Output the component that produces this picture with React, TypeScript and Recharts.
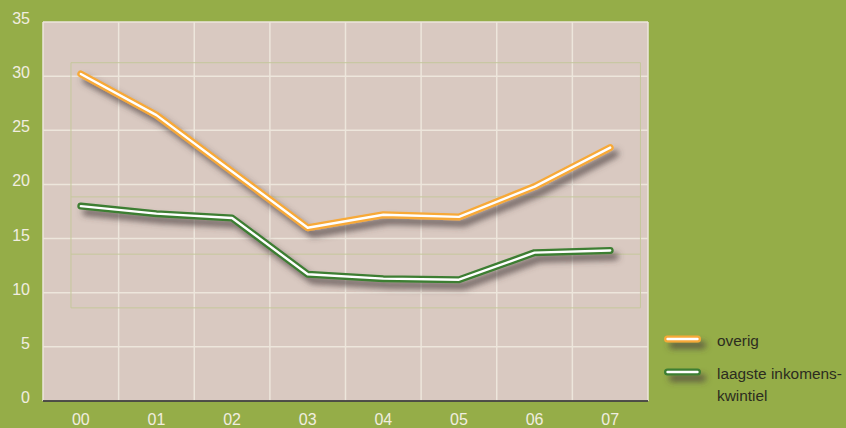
import React from 'react';
import { LineChart, Line, XAxis, YAxis, CartesianGrid, ReferenceLine, Legend } from 'recharts';

const years = ['00', '01', '02', '03', '04', '05', '06', '07'];
const overig = [30.2, 26.4, 21.2, 16.0, 17.2, 17.0, 19.8, 23.4];
const laagste = [18.0, 17.3, 16.9, 11.7, 11.3, 11.2, 13.7, 13.9];
const yTicks = [0, 5, 10, 15, 20, 25, 30, 35];
const boundaries = [-0.5, 0.5, 1.5, 2.5, 3.5, 4.5, 5.5, 6.5, 7.5];
const ghostY = [31.24, 18.85, 13.56, 8.6];
const ghostX = [-0.13, 7.4];
const legendNames = [['overig'], ['laagste inkomens-', 'kwintiel']];

const BG = '#95ad48';
const PLOT = '#d9c9c1';
const GRID = '#ede6dc';
const GHOST = '#c5c79c';
const ORANGE = '#f7a937';
const GREEN = '#3c7e33';
const TICK = '#f1ede0';
const FONT = '"Liberation Sans", Arial, sans-serif';

const data = years.map((label, i) => ({ x: i, label, overig: overig[i], laagste: laagste[i] }));

const XTick = (props: any) => {
  const { x, y, payload } = props;
  return (
    <text x={x} y={y} dy={24} textAnchor="middle" fill={TICK} fontSize={16} fontFamily={FONT}>
      {years[payload.value]}
    </text>
  );
};

const YTick = (props: any) => {
  const { x, y, payload } = props;
  return (
    <text x={x - 13} y={y} dy={2} textAnchor="end" fill={TICK} fontSize={16} fontFamily={FONT}>
      {payload.value}
    </text>
  );
};

const ShadowFilter = ({ id, x, y, w, h }: any) => (
  <filter id={id} filterUnits="userSpaceOnUse" x={x} y={y} width={w} height={h}>
    <feGaussianBlur in="SourceAlpha" stdDeviation={3} />
    <feOffset dx={5} dy={6} result="b" />
    <feFlood floodColor="#4a3e3e" floodOpacity={0.75} />
    <feComposite in2="b" operator="in" />
    <feMerge>
      <feMergeNode />
      <feMergeNode in="SourceGraphic" />
    </feMerge>
  </filter>
);

const LegendContent = () => {
  const colors = [ORANGE, GREEN];
  return (
    <svg width={184} height={84} style={{ display: 'block', overflow: 'visible' }}>
      <defs>
        <ShadowFilter id="lgshadow" x={-20} y={-20} w={240} h={130} />
      </defs>
      {legendNames.map((lines, i) => {
        const cy = 14 + i * 33;
        return (
          <g key={i}>
            <line x1={9.5} x2={39.5} y1={cy} y2={cy} stroke={colors[i]} strokeWidth={7} strokeLinecap="round" filter="url(#lgshadow)" />
            <line x1={9.5} x2={39.5} y1={cy} y2={cy} stroke="#ffffff" strokeWidth={2.4} strokeLinecap="round" />
            {lines.map((t, j) => (
              <text key={j} x={59} y={cy + 7 + j * 22} fill="#2c2c20" fontSize={15.4} fontFamily={FONT}>
                {t}
              </text>
            ))}
          </g>
        );
      })}
    </svg>
  );
};

export default function App() {
  const vGen = (p: any) => {
    const xa = p && p.xAxis;
    if (xa && typeof xa.scale === 'function') {
      return boundaries.map((b) => xa.scale(b));
    }
    const o = p.offset;
    return boundaries.map((b) => o.left + ((b + 0.5) / 8) * o.width);
  };
  return (
    <div style={{ position: 'absolute', left: 0, top: 0, width: 846, height: 428, background: BG }}>
      <LineChart width={846} height={428} data={data} margin={{ top: 22, right: 198, bottom: 0, left: 0 }}>
        <defs>
          <ShadowFilter id="lineshadow" x={0} y={0} w={846} h={428} />
        </defs>
        <CartesianGrid
          fill={PLOT}
          stroke={GRID}
          strokeWidth={1.5}
          verticalCoordinatesGenerator={vGen}
        />
        {ghostY.map((gy, i) => (
          <ReferenceLine
            key={'gy' + i}
            segment={[{ x: ghostX[0], y: gy }, { x: ghostX[1], y: gy }]}
            stroke={GHOST}
            strokeWidth={1}
          />
        ))}
        {ghostX.map((gx, i) => (
          <ReferenceLine
            key={'gx' + i}
            segment={[{ x: gx, y: ghostY[3] }, { x: gx, y: ghostY[0] }]}
            stroke={GHOST}
            strokeWidth={1}
          />
        ))}
        <XAxis
          dataKey="x"
          type="number"
          domain={[-0.5, 7.5]}
          ticks={[0, 1, 2, 3, 4, 5, 6, 7]}
          height={27}
          tickSize={0}
          tickMargin={0}
          tickLine={false}
          axisLine={{ stroke: '#1e1e1e', strokeWidth: 1.5 }}
          tick={<XTick />}
          interval={0}
        />
        <YAxis
          domain={[0, 35]}
          ticks={yTicks}
          width={43}
          tickSize={0}
          tickMargin={0}
          tickLine={false}
          axisLine={false}
          tick={<YTick />}
          interval={0}
        />
        <Line dataKey="overig" stroke={ORANGE} strokeWidth={7} strokeLinecap="round" strokeLinejoin="round" dot={false} activeDot={false} isAnimationActive={false} filter="url(#lineshadow)" />
        <Line dataKey="overig" stroke="#ffffff" strokeWidth={2.4} strokeLinecap="round" strokeLinejoin="round" dot={false} activeDot={false} isAnimationActive={false} />
        <Line dataKey="laagste" stroke={GREEN} strokeWidth={7} strokeLinecap="round" strokeLinejoin="round" dot={false} activeDot={false} isAnimationActive={false} filter="url(#lineshadow)" />
        <Line dataKey="laagste" stroke="#ffffff" strokeWidth={2.4} strokeLinecap="round" strokeLinejoin="round" dot={false} activeDot={false} isAnimationActive={false} />
        <Legend
          layout="vertical"
          align="center"
          verticalAlign="middle"
          content={<LegendContent />}
          wrapperStyle={{ position: 'absolute', left: 658, top: 325, width: 184 }}
        />
      </LineChart>
    </div>
  );
}
